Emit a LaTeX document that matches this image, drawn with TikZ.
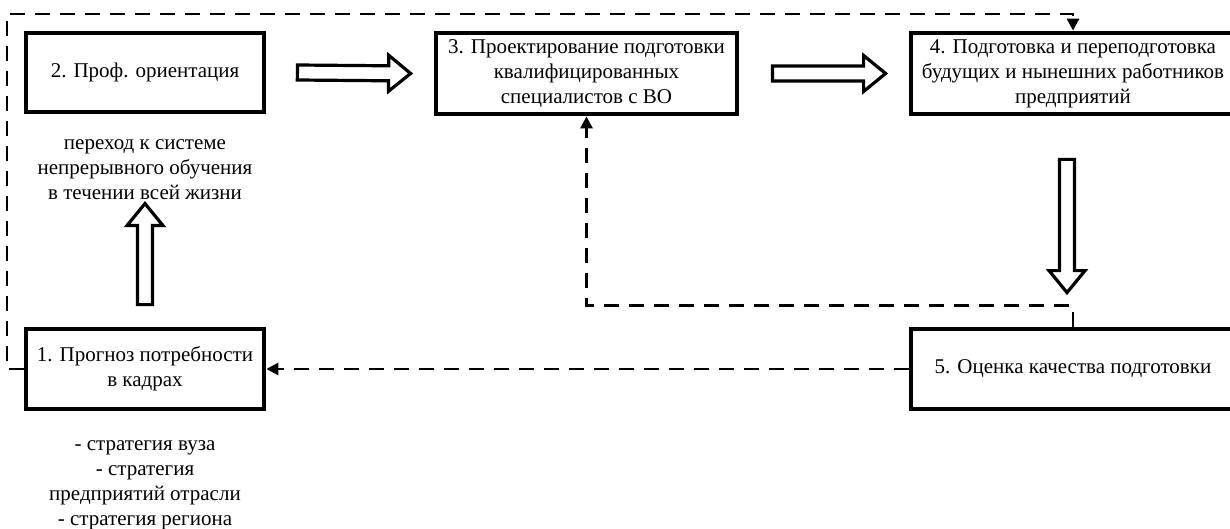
\documentclass[tikz,border=0pt]{standalone}
\usepackage{fontspec}
\setmainfont{Liberation Serif}
\usetikzlibrary{calc}
\usetikzlibrary{arrows.meta}

\newcommand{\blockarr}[2]{%
	\draw[hollow] let \p1=(#1), \p2=(#2), \n1={atan2(\y2-\y1,\x2-\x1)}, \n2={veclen(\x2-\x1,\y2-\y1)} in
		[shift={(\p1)}, rotate=\n1] (0pt,-3.75pt) -- ({\n2*1pt-11pt},-3.75pt) -- ({\n2*1pt-11pt},-9pt) -- ({\n2*1pt},0pt)
		-- ({\n2*1pt-11pt},9pt) -- ({\n2*1pt-11pt},3.75pt) -- (0pt,3.75pt) -- cycle;}

\begin{document}
\begin{tikzpicture}[x=0.5pt,y=-0.5pt,
		font=\fontsize{10.5}{12.5}\selectfont,
		box/.style={draw, line width=2.4pt, align=center, inner sep=1pt},
		hollow/.style={draw, line width=1.6pt, fill=white, line join=miter},
		dashline/.style={line width=1.4pt, dash pattern=on 7.5pt off 5pt, -{Triangle[length=6pt,width=6pt]}},
		note/.style={align=center, inner sep=0pt}]
		\useasboundingbox (0,0) rectangle (1230,529);
		\clip (0,0) rectangle (1230,529);
		\node[box, minimum width=119pt, minimum height=39.5pt] (b2) at (145,72.5) {2. Проф. ориентация};
		\node[box, minimum width=150.5pt, minimum height=40.5pt] (b3) at (586.5,73.5) {3. Проектирование подготовки\\квалифицированных\\специалистов с ВО};
		\node[box, minimum width=162pt, minimum height=40.5pt] (b4) at (1073,73.5) {4. Подготовка и переподготовка\\будущих и нынешних работников\\предприятий};
		\node[box, minimum width=119pt, minimum height=40pt] (b1) at (145,369) {1. Прогноз потребности\\в кадрах};
		\node[box, minimum width=162pt, minimum height=40pt] (b5) at (1073,369) {5. Оценка качества подготовки};
		\node[note] (n2) at (145,170) {переход к системе\\непрерывного обучения\\в течении всей жизни};
		\node[note] (n1) at (145,485) {- стратегия вуза\\- стратегия\\предприятий отрасли\\- стратегия региона};
		\coordinate (corner) at (7,14);
		\blockarr{$(b2.east)+(31,0)$}{$(b3.west)+(-23,0)$}
		\blockarr{$(b3.east)+(33,0)$}{$(b4.west)+(-23,0)$}
		\blockarr{$(b1.north)+(0,-22)$}{$(b1.north)+(0,-123)$}
		\blockarr{$(b4.south)+(-6,43)$}{$(b5.north)+(-6,-34)$}
		\draw[dashline] (b5.west) -- (b1.east);
		\draw[dashline] (b5.north) -- ++(0,-21) -| (b3.south);
		\draw[dashline] (b1.west) -| (corner) -| (b4.north);
	\end{tikzpicture}
\end{document}
